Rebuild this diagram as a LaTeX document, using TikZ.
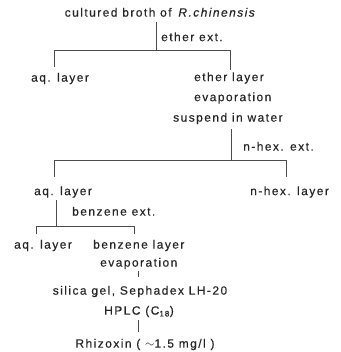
\documentclass[tikz,border=0pt]{standalone}
\usepackage{fontspec}
\setmainfont{Liberation Sans}[LetterSpace=12, FakeBold=0.4]
\begin{document}
\begin{tikzpicture}[x=1pt,y=-1pt,
  lbl/.style={inner sep=0pt, text=black!85, font=\fontsize{12}{14}\selectfont},
  tree/.style={draw=black!70, line width=0.6pt}]
\useasboundingbox (0,0) rectangle (340,352);

% extraction steps and fractions
\node[lbl, anchor=mid]      (broth)   at (160.5,14) {cultured broth of \,\textit{R.chinensis}};
\node[lbl, anchor=mid west] (ethext)  at (161,38.5)  {ether ext.};
\node[lbl, anchor=mid west] (aqA)     at (31,79)   {aq. layer};
\node[lbl, anchor=mid west] (ethlay)  at (194,78.5)  {ether layer};
\node[lbl, anchor=mid west] (evapA)   at (194,98.5)  {evaporation};
\node[lbl, anchor=mid west] (susp)    at (173,119) {suspend in water};
\node[lbl, anchor=mid west] (hexext)  at (243,148) {n-hex. ext.};
\node[lbl, anchor=mid west] (aqB)     at (34,192.5)  {aq. layer};
\node[lbl, anchor=mid west] (hexlay)  at (250,192.5) {n-hex. layer};
\node[lbl, anchor=mid west] (benext)  at (72,213)  {benzene ext.};
\node[lbl, anchor=mid west] (aqC)     at (14,246)  {aq. layer};
\node[lbl, anchor=mid west] (benlay)  at (93,246)  {benzene layer};
\node[lbl, anchor=mid west] (evapB)   at (100,264) {evaporation};
\node[lbl, anchor=mid]      (silica)  at (140,292) {silica gel, Sephadex LH-20};
\node[lbl, anchor=mid]      (hplc)    at (139,312) {HPLC (C\textsubscript{18})};
\node[lbl, anchor=mid]      (rhiz)    at (145,345) {Rhizoxin ( $\sim$1.5 mg/l )};

% branch points of the tree
\coordinate (s1top) at (156,22);  \coordinate (s1bot) at (156,50);
\coordinate (b1l) at (54,50);     \coordinate (b1r) at (230,50);
\coordinate (d1l) at (54,67);     \coordinate (d1r) at (230,70);

\coordinate (s2top) at (231,129); \coordinate (s2bot) at (231,160);
\coordinate (b2l) at (54,160);    \coordinate (b2r) at (286,160);
\coordinate (d2l) at (54,177);    \coordinate (d2r) at (286,177);

\coordinate (s3top) at (56,200);  \coordinate (s3bot) at (56,226);
\coordinate (b3l) at (36,226);    \coordinate (b3r) at (134,226);
\coordinate (d3l) at (36,234);    \coordinate (d3r) at (134,234);

\coordinate (t1top) at (138,271); \coordinate (t1bot) at (138,277);
\coordinate (t2top) at (138,320); \coordinate (t2bot) at (138,332);

% connectors
\draw[tree] (s1top) -- (s1bot);
\draw[tree] (d1l) -- (b1l) -- (b1r) -- (d1r);
\draw[tree] (s2top) -- (s2bot);
\draw[tree] (d2l) -- (b2l) -- (b2r) -- (d2r);
\draw[tree] (s3top) -- (s3bot);
\draw[tree] (d3l) -- (b3l) -- (b3r) -- (d3r);
\draw[tree] (t1top) -- (t1bot);
\draw[tree] (t2top) -- (t2bot);
\end{tikzpicture}
\end{document}
